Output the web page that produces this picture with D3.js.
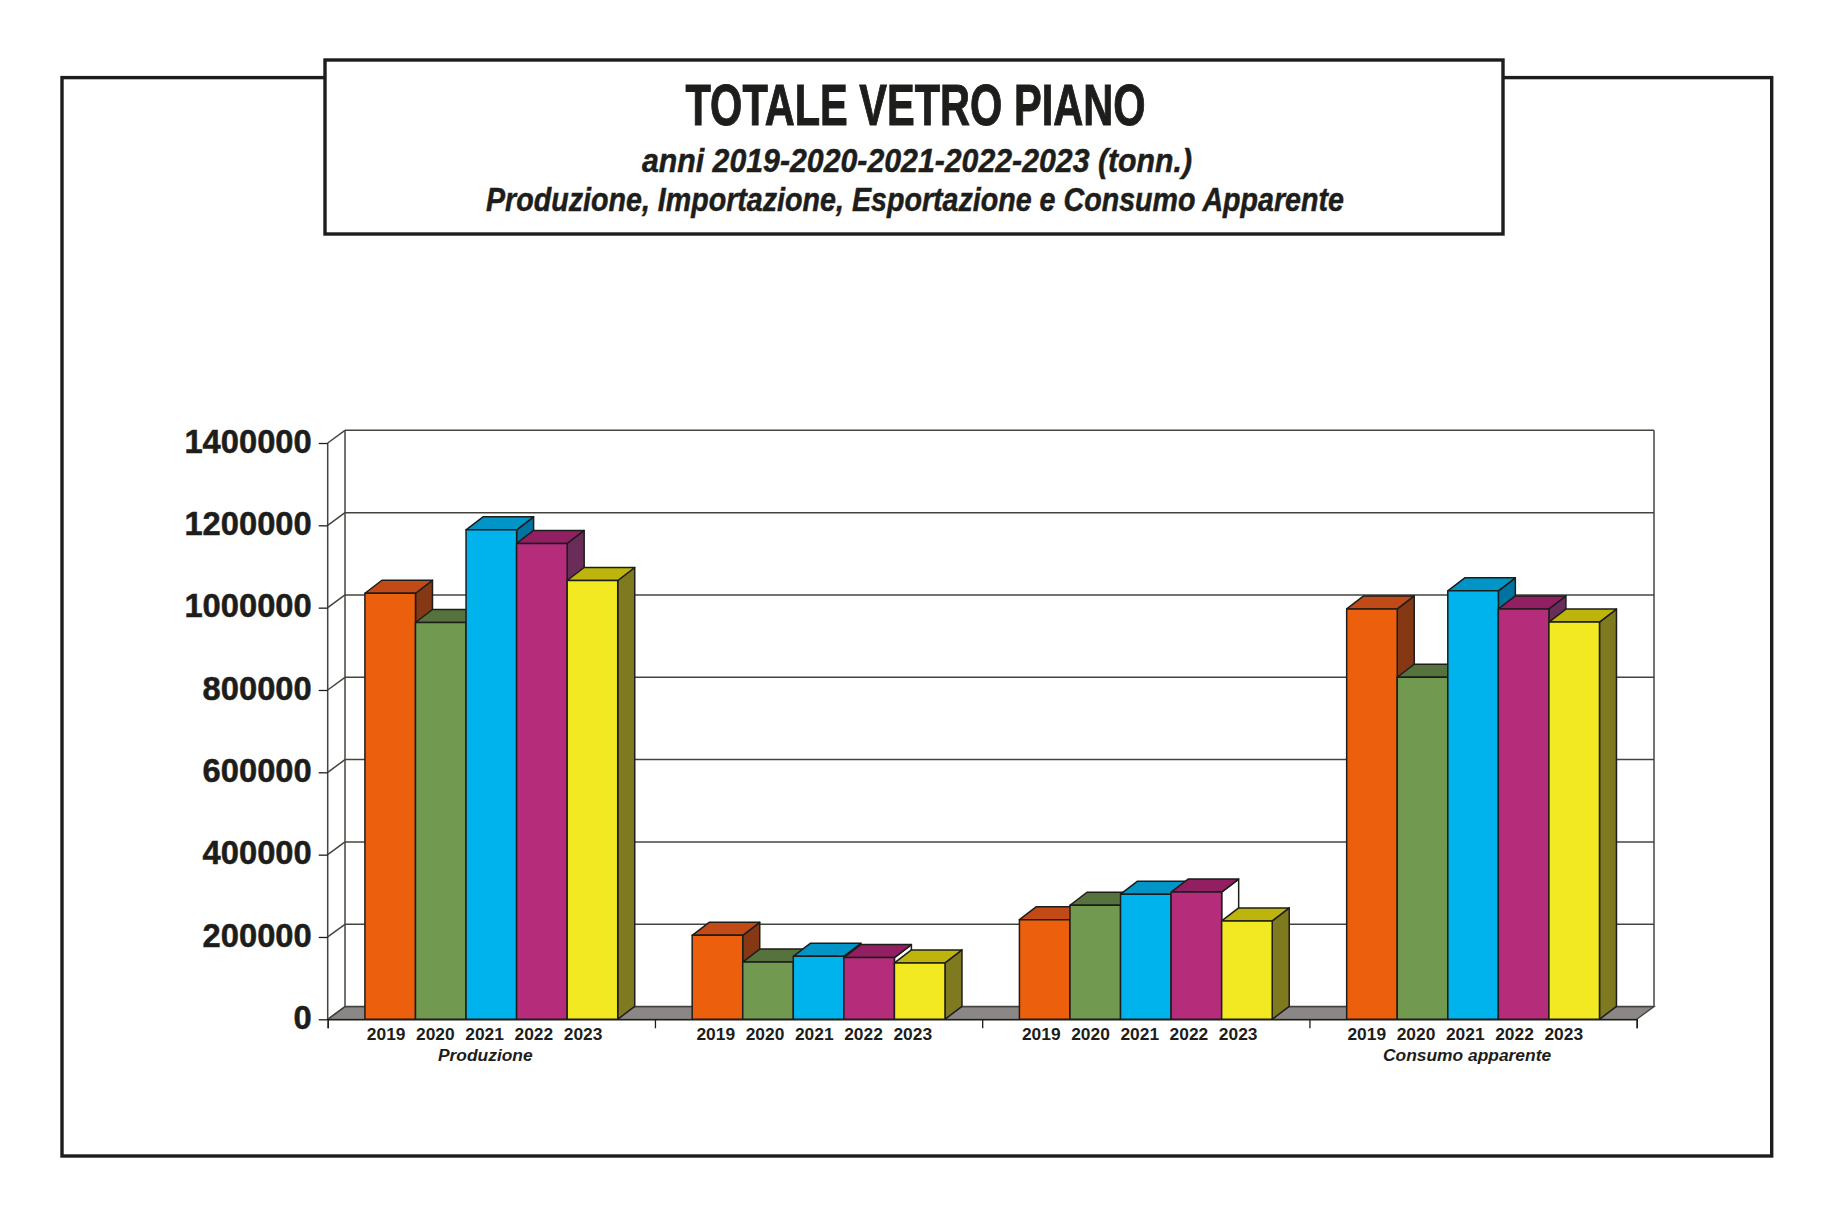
<!DOCTYPE html>
<html>
<head>
<meta charset="utf-8">
<title>Totale vetro piano</title>
<script src="https://cdn.jsdelivr.net/npm/d3@7"></script>
<style>
  html, body { margin: 0; padding: 0; background: #fff; }
  text { fill: #1d1d1b; font-family: "Liberation Sans", Arial, sans-serif; }
</style>
</head>
<body>
<div id="chart"></div>
<script>
document.addEventListener("DOMContentLoaded", function() {

    // data (tonnes)
    const groups = ["Produzione", "Importazione", "Esportazione", "Consumo apparente"];
    const groupLabels = ["Produzione", "", "", "Consumo apparente"];
    const years = ["2019", "2020", "2021", "2022", "2023"];
    const produzione = [1035000, 964000, 1189000, 1156000, 1066000];
    const importazione = [204000, 139000, 153000, 150000, 137000];
    const esportazione = [242000, 277000, 304000, 309000, 239000];
    const consumo = [997000, 831000, 1041000, 997000, 965000];
    const allValues = [produzione, importazione, esportazione, consumo];
    const yTicks = [0, 200000, 400000, 600000, 800000, 1000000, 1200000, 1400000];

    // front, top and side colour per year
    const frontColors = ["#ec5f0c", "#729950", "#00b3ec", "#b52c7b", "#f3e922"];
    const topColors = ["#c14a17", "#57733d", "#0095c6", "#931f63", "#bdb50c"];
    const sideColors = ["#843813", "#4a5f33", "#0073a0", "#6a2c58", "#7f7a20"];

    const width = 1831, height = 1226;
    const dark = "#1d1d1b", wall = "#44443f";
    const left = 327.7, right = 1636.7, base = 1019.3, top = 443;
    const dx = 17.3, dy = 12.7; // depth of the 3d box
    const barDx = 17, barDy = 13;

    const svg = d3.select("#chart").append("svg")
        .attr("width", width)
        .attr("height", height)
        .style("display", "block");

    const y = d3.scaleLinear().domain([0, 1400000]).range([base, top]);
    const x0 = d3.scaleBand().domain(groups).range([left, right])
        .paddingInner(0.2275).paddingOuter(0.11375);
    const x1 = d3.scaleBand().domain(years).range([0, x0.bandwidth()]);
    const xEdge = d3.scaleLinear().domain([0, 4]).range([left, right]);
    // year labels sit on a slightly tighter step than the bars
    const xLabel = d3.scaleBand().domain(years).range([-128.6, 117.6]);
    const labelShift = [-1.2, 1.2, -0.6, -2.3]; // the labels are not quite regular in the original

    // outer frame + title box
    svg.append("rect").attr("x", 62).attr("y", 77.6).attr("width", 1709.7).attr("height", 1078.4)
        .attr("fill", "#fff").attr("stroke", dark).attr("stroke-width", 3.4);
    svg.append("rect").attr("x", 325).attr("y", 60).attr("width", 1178).attr("height", 174)
        .attr("fill", "#fff").attr("stroke", dark).attr("stroke-width", 3.4);

    svg.append("text").attr("x", 915.5).attr("y", 125).attr("text-anchor", "middle")
        .attr("font-size", 57).attr("font-weight", "bold")
        .attr("stroke", "#1d1d1b").attr("stroke-width", 1)
        .attr("textLength", 460).attr("lengthAdjust", "spacingAndGlyphs")
        .text("TOTALE VETRO PIANO");
    svg.append("text").attr("x", 917).attr("y", 172).attr("text-anchor", "middle")
        .attr("font-size", 33).attr("font-weight", "bold").attr("font-style", "italic")
        .attr("stroke", "#1d1d1b").attr("stroke-width", 0.5)
        .attr("textLength", 550).attr("lengthAdjust", "spacingAndGlyphs")
        .text("anni 2019-2020-2021-2022-2023 (tonn.)");
    svg.append("text").attr("x", 915).attr("y", 211).attr("text-anchor", "middle")
        .attr("font-size", 33).attr("font-weight", "bold").attr("font-style", "italic")
        .attr("stroke", "#1d1d1b").attr("stroke-width", 0.5)
        .attr("textLength", 858).attr("lengthAdjust", "spacingAndGlyphs")
        .text("Produzione, Importazione, Esportazione e Consumo Apparente");

    // box: floor, walls, gridlines
    const pts = a => a.map(p => p.join(",")).join(" ");
    svg.append("polygon")
        .attr("points", pts([[left, base], [left + dx, base - dy], [right + dx, base - dy], [right, base]]))
        .attr("fill", "#8b8786").attr("stroke", wall).attr("stroke-width", 1.3);

    svg.append("g").selectAll("line").data(yTicks).enter().append("line")
        .attr("x1", left + dx).attr("x2", right + dx)
        .attr("y1", d => y(d) - dy).attr("y2", d => y(d) - dy)
        .attr("stroke", wall).attr("stroke-width", 1.5);
    svg.append("g").selectAll("line").data(yTicks).enter().append("line")
        .attr("x1", left).attr("x2", left + dx)
        .attr("y1", d => y(d)).attr("y2", d => y(d) - dy)
        .attr("stroke", wall).attr("stroke-width", 1.5);
    [left, left + dx, right + dx].forEach((xv, i) => {
        svg.append("line").attr("x1", xv).attr("x2", xv)
            .attr("y1", i == 0 ? y(1400000) : y(1400000) - dy)
            .attr("y2", i == 0 ? base : base - dy)
            .attr("stroke", wall).attr("stroke-width", 1.5);
    });

    // y axis
    const yAxis = svg.append("g")
        .attr("transform", "translate(" + left + ",0)")
        .call(d3.axisLeft(y).tickValues(yTicks).tickFormat(d3.format("d")).tickSize(9).tickPadding(7));
    yAxis.select(".domain").remove();
    yAxis.selectAll("line").attr("stroke", dark).attr("stroke-width", 1.3);
    yAxis.selectAll("text").attr("font-size", 32.7).attr("font-weight", "bold")
        .attr("font-family", '"Liberation Sans", Arial, sans-serif')
        .attr("stroke", "#1d1d1b").attr("stroke-width", 0.5)
        .attr("transform", "translate(0,-1.2)");

    // x axis, ticks on the group edges
    const xAxis = svg.append("g")
        .attr("transform", "translate(0," + base + ")")
        .call(d3.axisBottom(xEdge).tickValues([0, 1, 2, 3, 4]).tickFormat("").tickSize(9));
    xAxis.select(".domain").attr("stroke", dark).attr("stroke-width", 1.4);
    xAxis.selectAll("line").attr("stroke", dark).attr("stroke-width", 1.3);

    // bars, painted left to right so that each one hides the side of the previous
    const style = sel => sel.attr("stroke", dark).attr("stroke-width", 1.5).attr("stroke-linejoin", "round");

    groups.forEach((g, gi) => {
        const vals = allValues[gi];
        const grp = svg.append("g").attr("transform", "translate(" + x0(g) + ",0)");
        const bars = grp.selectAll("g").data(vals).enter().append("g");

        // 2022 side of the middle groups is left unfilled in the original
        style(bars.append("polygon"))
            .attr("points", (d, i) => {
                const xr = x1(years[i]) + x1.bandwidth();
                return pts([[xr, y(d)], [xr + barDx, y(d) - barDy], [xr + barDx, base - barDy], [xr, base]]);
            })
            .attr("fill", (d, i) => ((gi == 1 || gi == 2) && i == 3) ? "#fff" : sideColors[i]);
        style(bars.append("polygon"))
            .attr("points", (d, i) => {
                const xl = x1(years[i]), xr = xl + x1.bandwidth();
                return pts([[xl, y(d)], [xl + barDx, y(d) - barDy], [xr + barDx, y(d) - barDy], [xr, y(d)]]);
            })
            .attr("fill", (d, i) => topColors[i]);
        style(bars.append("rect"))
            .attr("x", (d, i) => x1(years[i]))
            .attr("y", d => y(d))
            .attr("width", x1.bandwidth())
            .attr("height", d => base - y(d))
            .attr("fill", (d, i) => frontColors[i]);

        // year labels
        const cx = xEdge(gi + 0.5);
        svg.append("g").selectAll("text").data(years).enter().append("text")
            .attr("x", d => cx + labelShift[gi] + xLabel(d) + xLabel.bandwidth() / 2)
            .attr("y", 1040)
            .attr("text-anchor", "middle")
            .attr("font-size", 17.4).attr("font-weight", "bold")
            .text(d => d);

        if (groupLabels[gi]) {
            svg.append("text")
                .attr("x", cx - 6)
                .attr("y", 1060.5)
                .attr("text-anchor", "middle")
                .attr("font-size", 17.4).attr("font-weight", "bold").attr("font-style", "italic")
                .text(groupLabels[gi]);
        }
    });
});
</script>
</body>
</html>
